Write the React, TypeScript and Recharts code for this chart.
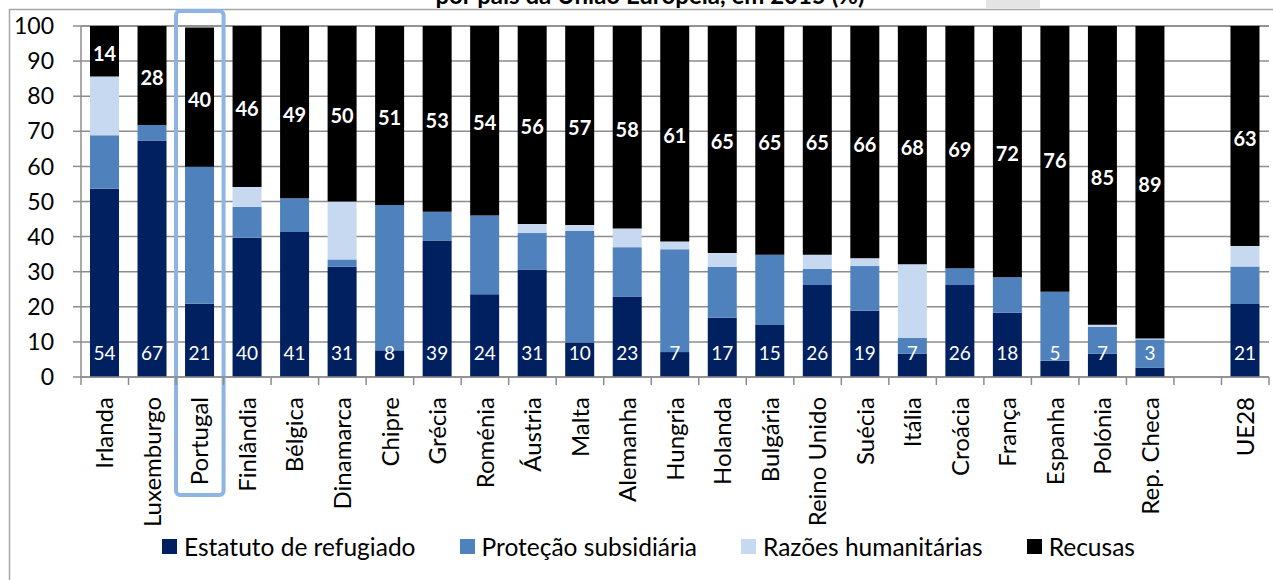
import { BarChart, Bar, XAxis, YAxis, CartesianGrid, LabelList, ReferenceArea } from 'recharts';

const countries = [
  'Irlanda', 'Luxemburgo', 'Portugal', 'Finlândia', 'Bélgica', 'Dinamarca', 'Chipre', 'Grécia',
  'Roménia', 'Áustria', 'Malta', 'Alemanha', 'Hungria', 'Holanda', 'Bulgária', 'Reino Unido',
  'Suécia', 'Itália', 'Croácia', 'França', 'Espanha', 'Polónia', 'Rep. Checa', '', 'UE28',
];

// % of decisions (the empty slot is the gap before UE28)
const refugiado = [53.6, 67.4, 20.9, 39.7, 41.3, 31.4, 7.6, 38.9, 23.6, 30.6, 9.8, 22.9, 7.1, 16.9, 14.8, 26.2, 18.9, 6.6, 26.2, 18.3, 4.6, 6.6, 2.6, null, 20.8];
const subsidiaria = [15.3, 4.4, 39.0, 8.8, 9.6, 2.1, 41.4, 8.2, 22.4, 10.4, 31.8, 14.1, 29.3, 14.5, 20.0, 4.6, 12.7, 4.5, 4.8, 10.1, 19.7, 7.7, 8.1, null, 10.7];
const humanitarias = [16.7, 0, 0, 5.6, 0, 16.5, 0, 0, 0, 2.6, 1.7, 5.3, 2.2, 3.9, 0, 4.0, 2.2, 21.0, 0, 0, 0, 0.6, 0.3, null, 5.8];
const recusas = [14.4, 28.2, 39.7, 45.9, 49.1, 50.0, 51.0, 52.9, 54.0, 56.4, 56.7, 57.7, 61.4, 64.7, 65.2, 65.2, 66.2, 67.9, 69.0, 71.6, 75.7, 85.1, 89.0, null, 62.7];

const yTicks = [0, 10, 20, 30, 40, 50, 60, 70, 80, 90, 100];

const series = [
  { key: 'refugiado', name: 'Estatuto de refugiado', color: '#002060' },
  { key: 'subsidiaria', name: 'Proteção subsidiária', color: '#4F81BD' },
  { key: 'humanitarias', name: 'Razões humanitárias', color: '#C6D9F1' },
  { key: 'recusas', name: 'Recusas', color: '#000000' },
];

const title = 'por país da União Europeia, em 2015 (%)';
const highlighted = 'Portugal';

const data = countries.map((name, i) => ({
  name,
  refugiado: refugiado[i],
  subsidiaria: subsidiaria[i],
  humanitarias: humanitarias[i],
  recusas: recusas[i],
}));

const W = 1273;
const H = 580;
const FONT = 'Lato, "Open Sans", sans-serif';
const GRID = '#8c8c8c';
const margin = { top: 26, right: 4, left: 21, bottom: 53 };
const Y_AXIS_W = 60;
const X_AXIS_H = 150;
const TICK_MARGIN = 20;
const band = (W - margin.left - Y_AXIS_W - margin.right) / countries.length;

const CountryTick = (props: any) => {
  const { x, y, payload, index } = props;
  const axisY = y - TICK_MARGIN;
  const half = band / 2;
  return (
    <g>
      <line x1={x - half} x2={x - half} y1={axisY} y2={axisY + 8} stroke={GRID} strokeWidth={1.5} />
      {index === countries.length - 1 && (
        <line x1={x + half} x2={x + half} y1={axisY} y2={axisY + 8} stroke={GRID} strokeWidth={1.5} />
      )}
      <text
        transform={`translate(${x},${y}) rotate(-90)`}
        textAnchor="end"
        dy="0.36em"
        fontFamily={FONT}
        fontSize={24}
        fill="#000"
      >
        {payload.value}
      </text>
    </g>
  );
};

const box = (p: any) => {
  const vb = p.viewBox || p;
  return { x: p.x ?? vb.x, y: p.y ?? vb.y, width: p.width ?? vb.width, height: p.height ?? vb.height };
};

const BottomLabel = (props: any) => {
  if (props.value == null) return null;
  const { x, y, width, height } = box(props);
  return (
    <text x={x + width / 2} y={y + height - 17} textAnchor="middle" fill="#fff" fontFamily={FONT} fontSize={19}>
      {Math.round(props.value)}
    </text>
  );
};

const CenterLabel = (props: any) => {
  if (props.value == null) return null;
  const { x, y, width, height } = box(props);
  return (
    <text
      x={x + width / 2}
      y={y + height / 2 + 1.5}
      textAnchor="middle"
      dominantBaseline="central"
      fill="#fff"
      fontFamily={FONT}
      fontWeight="bold"
      fontSize={20}
    >
      {Math.round(props.value)}
    </text>
  );
};

const App = () => {
  return (
    <div style={{ position: 'absolute', left: 0, top: 0, width: W, height: H, overflow: 'hidden', background: '#fff' }}>
      <svg width={W} height={H} style={{ position: 'absolute', left: 0, top: 0 }}>
        <rect x={986} y={0} width={54} height={8} fill="#e4e4e4" />
        <text x={650} y={4} textAnchor="middle" fontFamily={FONT} fontWeight="bold" fontSize={24} fill="#000">
          {title}
        </text>
        <line x1={9} x2={W} y1={9.5} y2={9.5} stroke="#a6a6a6" strokeWidth={1.5} />
        <line x1={9.5} x2={9.5} y1={9} y2={H} stroke="#a6a6a6" strokeWidth={1.5} />
      </svg>

      <div style={{ position: 'absolute', left: 0, top: 0 }}>
        <BarChart width={W} height={H} data={data} margin={margin} barSize={29}>
          <CartesianGrid vertical={false} stroke={GRID} strokeWidth={1.5} />
          <XAxis
            dataKey="name"
            interval={0}
            height={X_AXIS_H}
            tickLine={false}
            tickSize={0}
            tickMargin={TICK_MARGIN}
            axisLine={{ stroke: GRID, strokeWidth: 1.5 }}
            tick={<CountryTick />}
          />
          <YAxis
            width={Y_AXIS_W}
            domain={[0, 100]}
            ticks={yTicks}
            interval={0}
            tickSize={8}
            tickMargin={19}
            axisLine={{ stroke: GRID, strokeWidth: 1.5 }}
            tickLine={{ stroke: GRID, strokeWidth: 1.5 }}
            tick={{ fill: '#000', fontSize: 23, fontFamily: FONT }}
          />
          {series.map((s) => (
            <Bar key={s.key} dataKey={s.key} name={s.name} stackId="a" fill={s.color} isAnimationActive={false}>
              {s.key === 'refugiado' && <LabelList dataKey={s.key} content={<BottomLabel />} />}
              {s.key === 'recusas' && <LabelList dataKey={s.key} content={<CenterLabel />} />}
            </Bar>
          ))}
          <ReferenceArea
            x1={highlighted}
            x2={highlighted}
            y1={-33.6}
            y2={104.3}
            ifOverflow="visible"
            fill="none"
            fillOpacity={0}
            stroke="#8DB4E2"
            strokeWidth={4}
            radius={4}
          />
        </BarChart>
      </div>

      <div
        style={{
          position: 'absolute',
          left: 162,
          top: 532,
          display: 'flex',
          alignItems: 'center',
          fontFamily: FONT,
          fontSize: 24.5,
          color: '#000',
          whiteSpace: 'nowrap',
        }}
      >
        {series.map((s) => (
          <div key={s.key} style={{ display: 'flex', alignItems: 'center', marginRight: 44 }}>
            <span style={{ display: 'inline-block', width: 15, height: 15, background: s.color, marginRight: 7 }} />
            {s.name}
          </div>
        ))}
      </div>
    </div>
  );
};

export default App;
